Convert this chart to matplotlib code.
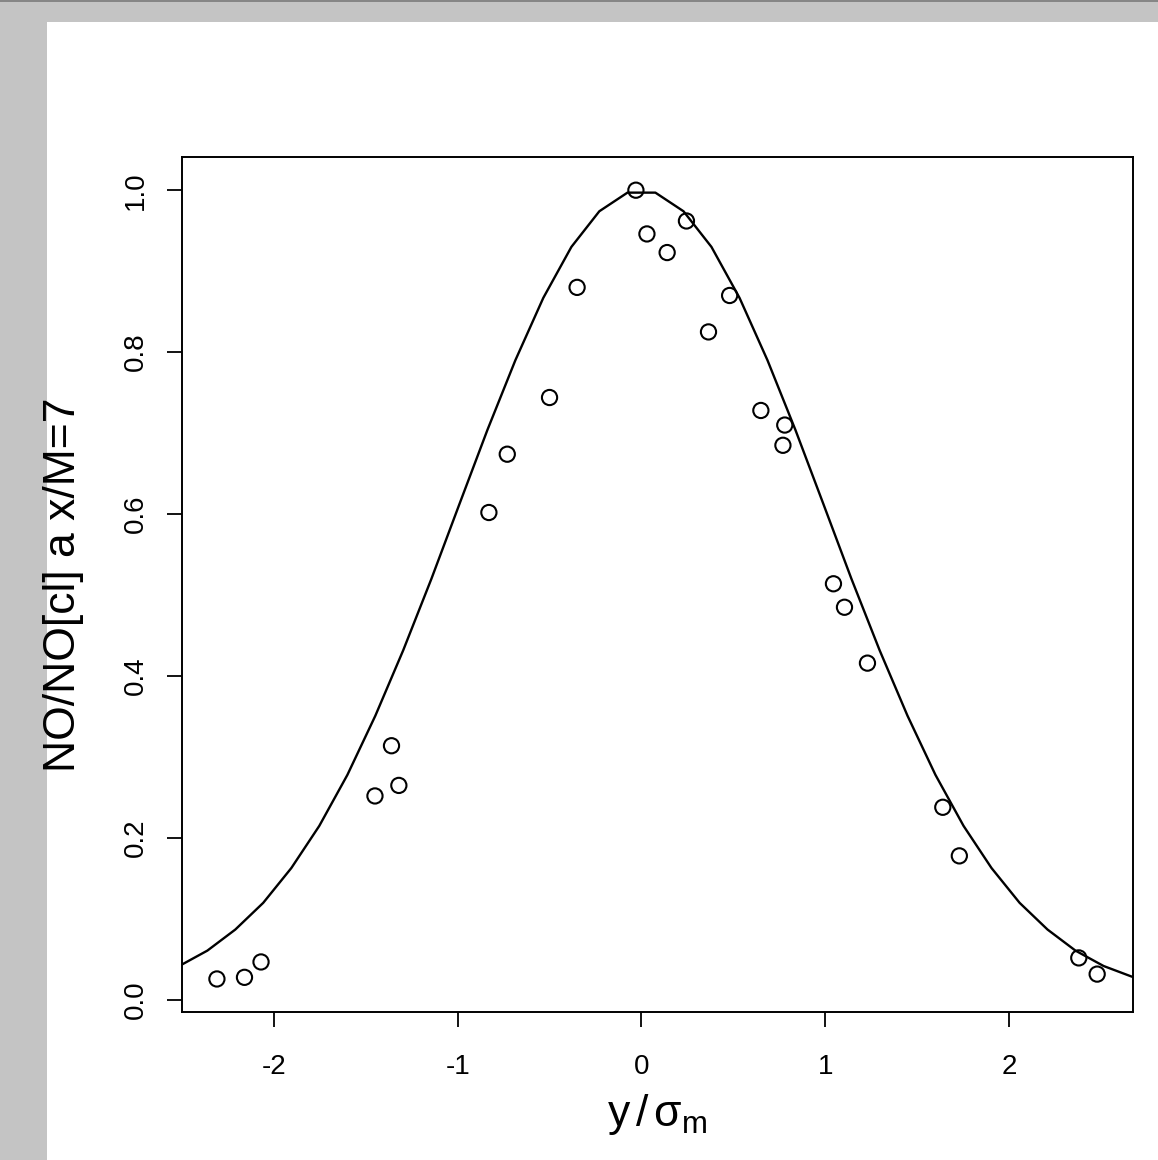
import matplotlib
matplotlib.use("Agg")
import matplotlib.pyplot as plt
from matplotlib.patches import Rectangle
from matplotlib.lines import Line2D

plt.rcParams['font.family'] = ['Liberation Sans', 'DejaVu Sans']
plt.rcParams['mathtext.fontset'] = 'custom'
plt.rcParams['mathtext.rm'] = 'Liberation Sans'
plt.rcParams['mathtext.it'] = 'Liberation Sans:italic'

# measured NO/NO[cl] ratios across the plume at x/M = 7
y_sigma = [-2.31, -2.16, -2.07, -1.45, -1.36, -1.32, -0.83, -0.73, -0.50, -0.35,
           -0.03, 0.03, 0.14, 0.245, 0.365, 0.48, 0.65, 0.77, 0.78,
           1.045, 1.105, 1.23, 1.64, 1.73, 2.38, 2.48]
no_ratio = [0.026, 0.028, 0.047, 0.252, 0.314, 0.265, 0.602, 0.674, 0.744, 0.880,
            1.000, 0.946, 0.923, 0.962, 0.825, 0.870, 0.728, 0.685, 0.710,
            0.514, 0.485, 0.416, 0.238, 0.178, 0.052, 0.032]

# gaussian profile sampled on the model grid
curve_x = [-2.515, -2.362, -2.210, -2.058, -1.905, -1.753, -1.600, -1.448, -1.296,
           -1.143, -0.991, -0.838, -0.686, -0.534, -0.381, -0.229, -0.076,
           0.076, 0.229, 0.381, 0.534, 0.686, 0.838, 0.991, 1.143, 1.296,
           1.448, 1.600, 1.753, 1.905, 2.058, 2.210, 2.362, 2.515, 2.667, 2.819]
curve_y = [0.042, 0.061, 0.087, 0.120, 0.163, 0.215, 0.278, 0.351, 0.432,
           0.520, 0.612, 0.704, 0.790, 0.867, 0.930, 0.974, 0.997,
           0.997, 0.974, 0.930, 0.867, 0.790, 0.704, 0.612, 0.520, 0.432,
           0.351, 0.278, 0.215, 0.163, 0.120, 0.087, 0.061, 0.042, 0.029, 0.019]

x_ticks = [-2, -1, 0, 1, 2]
y_ticks = [0.0, 0.2, 0.4, 0.6, 0.8, 1.0]

W, H = 1158, 1160
fig = plt.figure(figsize=(W / 100, H / 100), dpi=100, facecolor='#c4c4c4')

# white page inside the grey frame
fig.patches.append(Rectangle((47 / W, 0), 1, 1 - 22 / H, transform=fig.transFigure,
                             facecolor='white', edgecolor='none', zorder=-10))
fig.lines.append(Line2D([0, 1], [1 - 0.5 / H, 1 - 0.5 / H], transform=fig.transFigure,
                        color='#7a7a7a', lw=1.2, zorder=-9))

ax = fig.add_axes([182 / W, 1 - 1012 / H, (1133 - 182) / W, (1012 - 157) / H])
ax.set_zorder(1)
ax.set_facecolor('white')

ax.plot(curve_x, curve_y, color='black', lw=1.7, zorder=2)
ax.scatter(y_sigma, no_ratio, s=120, facecolors='none', edgecolors='black',
           linewidths=1.5, zorder=3)

ax.set_xlim(-2.5, 2.675)
ax.set_ylim(-0.0148, 1.041)
ax.set_xticks(x_ticks)
ax.set_xticklabels([str(t) for t in x_ticks])
ax.set_yticks(y_ticks)
ax.set_yticklabels([f"{t:.1f}" for t in y_ticks], rotation=90, va='center')

for sp in ax.spines.values():
    sp.set_linewidth(1.4)
ax.tick_params(axis='both', direction='out', length=11, width=1.3, labelsize=20)
ax.tick_params(axis='x', pad=19)
ax.tick_params(axis='y', pad=13)

fig.text(64 / W, 1 - 584.5 / H, 'NO/NO[cl] a x/M=7', rotation=90,
         ha='center', va='center', fontsize=32)
fig.text(657.5 / W, 1 - 1126 / H, r'y$\,/\,$σ$_{\mathrm{m}}$',
         ha='center', va='baseline', fontsize=32)

fig.savefig('out.png', dpi=100, facecolor=fig.get_facecolor())
